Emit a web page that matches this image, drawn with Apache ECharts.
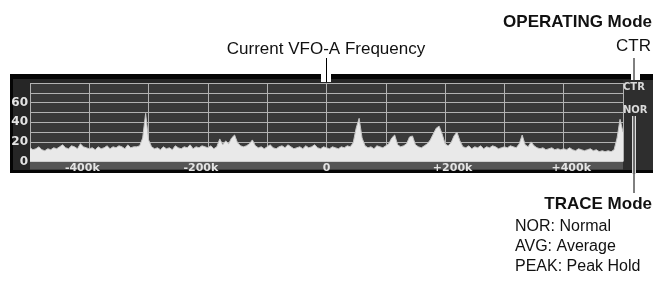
<!DOCTYPE html>
<html>
<head>
<meta charset="utf-8">
<script src="https://cdn.jsdelivr.net/npm/echarts@6/dist/echarts.min.js"></script>
<style>
  html, body { margin: 0; padding: 0; background: #fff; }
  #chart { width: 653px; height: 283px; }
</style>
</head>
<body>
<div id="chart"></div>
<script>
// spectrum scope sweep, offset from VFO-A in kHz
const freqStart = -500;
const freqStep = 5;
const levels = [
  14, 12, 13, 15, 12, 11, 13, 12, 14, 13,
  15, 17, 14, 13, 16, 15, 13, 18, 15, 14,
  13, 14, 12, 15, 13, 14, 16, 13, 15, 14,
  16, 15, 13, 17, 14, 15, 15, 16, 24, 49,
  22, 15, 13, 14, 12, 15, 13, 14, 12, 16,
  14, 13, 15, 14, 17, 13, 15, 14, 16, 15,
  14, 16, 13, 15, 23, 17, 21, 18, 24, 27,
  19, 16, 15, 16, 18, 22, 16, 14, 15, 13,
  15, 17, 14, 13, 15, 16, 14, 17, 15, 13,
  14, 15, 13, 16, 14, 15, 17, 14, 13, 15,
  14, 13, 15, 14, 13, 15, 14, 16, 15, 19,
  34, 44, 24, 16, 14, 15, 13, 16, 15, 14,
  16, 18, 24, 27, 17, 15, 16, 18, 25, 26,
  17, 15, 14, 16, 18, 22, 28, 34, 36, 28,
  18, 16, 19, 26, 30, 21, 15, 14, 16, 13,
  15, 14, 16, 13, 15, 14, 16, 15, 13, 14,
  15, 14, 16, 15, 14, 18, 27, 17, 15, 20,
  16, 14, 13, 14, 12, 13, 14, 12, 13, 12,
  13, 12, 14, 12, 11, 13, 12, 11, 12, 13,
  11, 12, 10, 11, 10, 11, 10, 12, 24, 43,
  30
];
const yTicks = [0, 20, 40, 60];
const xTicks = [-400, -200, 0, 200, 400];
const scopeFlags = ['CTR', 'NOR'];
const traceModes = ['NOR: Normal', 'AVG: Average', 'PEAK: Peak Hold'];

const chart = echarts.init(document.getElementById('chart'), null, { renderer: 'canvas' });

const textFont = "'Liberation Sans', Arial, sans-serif";
const lcdFont = "'DejaVu Sans', sans-serif";

function xLabel(v) {
  if (!xTicks.includes(v)) return '';
  if (v === 0) return '{z|0}';
  if (v < 0) return '{neg|-' + Math.abs(v) + 'k}';
  return '{pos|+' + v + 'k}';
}

const lcdLabel = { color: '#e4e4e4', fontFamily: lcdFont, fontWeight: 'bold', fontSize: 11 };

const graphic = [
  // scope panel
  { type: 'rect', z: -10, silent: true, shape: { x: 10, y: 74, width: 643, height: 99 }, style: { fill: '#050505' } },
  { type: 'rect', z: -9, silent: true, shape: { x: 13, y: 79, width: 618, height: 91 }, style: { fill: '#262626' } },
  { type: 'rect', z: -9, silent: true, shape: { x: 643, y: 80, width: 10, height: 90 }, style: { fill: '#2e2e2e' } },
  { type: 'rect', z: -8, silent: true, shape: { x: 30, y: 161, width: 593, height: 8.5 }, style: { fill: '#555' } },
  { type: 'rect', z: -8, silent: true, shape: { x: 623, y: 80, width: 20, height: 90 }, style: { fill: '#2e2e2e' } },
  // gaps for pointer lines
  { type: 'rect', z: 20, silent: true, shape: { x: 321, y: 73, width: 10, height: 9 }, style: { fill: '#fff' } },
  { type: 'rect', z: 20, silent: true, shape: { x: 631, y: 73, width: 9, height: 7 }, style: { fill: '#fff' } },
  { type: 'rect', z: 20, silent: true, shape: { x: 632, y: 116, width: 4, height: 58 }, style: { fill: '#ddd' } },
  { type: 'line', z: 21, silent: true, shape: { x1: 326.5, y1: 58, x2: 326.5, y2: 82 }, style: { stroke: '#000', lineWidth: 1 } },
  { type: 'line', z: 21, silent: true, shape: { x1: 634, y1: 58, x2: 634, y2: 80 }, style: { stroke: '#000', lineWidth: 1 } },
  { type: 'line', z: 21, silent: true, shape: { x1: 634, y1: 116, x2: 634, y2: 193 }, style: { stroke: '#000', lineWidth: 1 } },
  // annotations
  { type: 'text', z: 30, style: { text: 'Current VFO-A Frequency', x: 326, y: 49, align: 'center', verticalAlign: 'middle', font: '17px ' + textFont, fill: '#111' } },
  { type: 'text', z: 30, style: { text: 'OPERATING Mode', x: 652, y: 22, align: 'right', verticalAlign: 'middle', font: 'bold 17px ' + textFont, fill: '#111' } },
  { type: 'text', z: 30, style: { text: 'CTR', x: 651, y: 46.5, align: 'right', verticalAlign: 'middle', font: '17px ' + textFont, fill: '#111' } },
  { type: 'text', z: 30, style: { text: 'TRACE Mode', x: 652, y: 204, align: 'right', verticalAlign: 'middle', font: 'bold 17px ' + textFont, fill: '#111' } }
];

scopeFlags.forEach((t, i) => {
  graphic.push({ type: 'text', z: 25, style: { text: t, x: 623, y: 87 + i * 23, align: 'left', verticalAlign: 'middle', font: 'bold 10px ' + lcdFont, fill: '#dadada' } });
});

traceModes.forEach((t, i) => {
  graphic.push({ type: 'text', z: 30, style: { text: t, x: 515, y: 227 + i * 20, align: 'left', verticalAlign: 'middle', font: '16px ' + textFont, fill: '#111' } });
});

chart.setOption({
  animation: false,
  backgroundColor: '#fff',
  grid: {
    left: 30, right: 30, top: 83, bottom: 121.5,
    show: true, backgroundColor: '#393939', borderWidth: 0
  },
  xAxis: {
    type: 'value',
    min: -500, max: 500, interval: 100,
    axisLine: { show: false },
    axisTick: { show: false },
    splitLine: { show: true, lineStyle: { color: '#b2b2b2', width: 1 } },
    axisLabel: {
      margin: 1,
      formatter: xLabel,
      rich: {
        neg: Object.assign({ padding: [0, 14, 0, 0] }, lcdLabel),
        pos: Object.assign({ padding: [0, 0, 0, 15] }, lcdLabel),
        z: lcdLabel
      }
    }
  },
  yAxis: {
    type: 'value',
    min: 0, max: 80, interval: 10,
    axisLine: { show: false },
    axisTick: { show: false },
    splitLine: { show: true, lineStyle: { color: '#b2b2b2', width: 1 } },
    axisLabel: Object.assign({ margin: 2, formatter: v => (yTicks.includes(v) ? String(v) : '') }, lcdLabel, { fontSize: 12 })
  },
  series: [{
    type: 'line',
    data: levels.map((v, i) => [freqStart + i * freqStep, v]),
    symbol: 'none',
    lineStyle: { color: '#c4c4c4', width: 1 },
    areaStyle: { color: '#e9e9e9', opacity: 1 },
    z: 3
  }],
  graphic: graphic
});
</script>
</body>
</html>
